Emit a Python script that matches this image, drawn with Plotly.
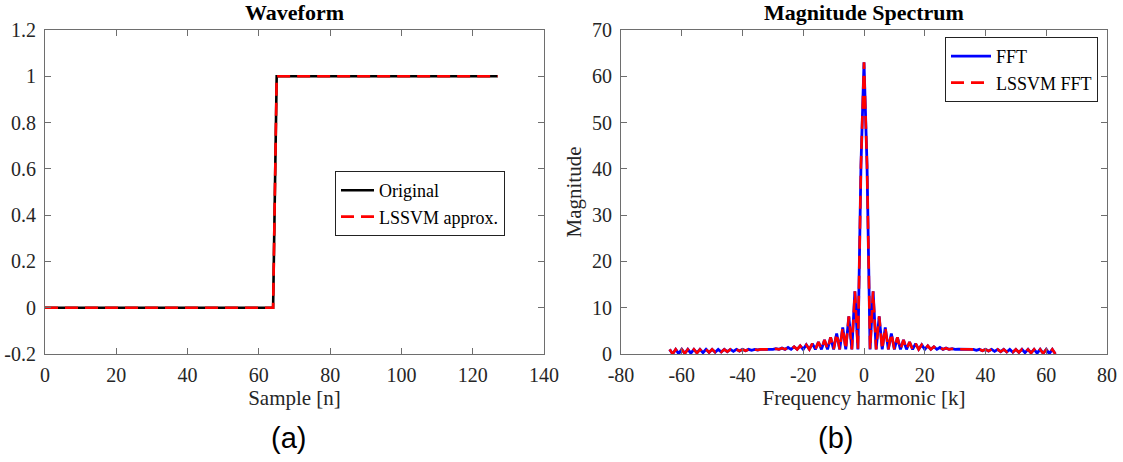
import plotly.graph_objects as go

# ---------------- data ----------------
# (a) waveform: step from 0 to 1 between samples 64 and 65
wave_n = [0, 64, 65, 127]
wave_original = [0, 0, 1, 1]
wave_lssvm = [0, 0, 1, 1]

# (b) magnitude spectrum, harmonics k = -64 ... 63
harmonic_k = list(range(-64, 64))
fft_mag = [
    1, 0.02, 1, 0.07, 1, 0.12, 1, 0.17, 1, 0.22, 1, 0.28, 1, 0.33, 1, 0.39,
    1, 0.44, 1, 0.50, 1, 0.57, 1, 0.64, 1, 0.71, 1, 0.79, 1, 0.87, 1, 0.97,
    1, 1.03, 1, 1.14, 1, 1.27, 1, 1.41, 1, 1.57, 1, 1.76, 1, 1.99, 1, 2.25,
    1, 2.59, 1, 3.03, 1, 3.61, 1, 4.45, 1, 5.76, 1, 8.11, 1, 13.56, 1, 40.73,
    63,
    40.73, 1, 13.56, 1, 8.11, 1, 5.76, 1, 4.45, 1, 3.61, 1, 3.03, 1, 2.59, 1,
    2.25, 1, 1.99, 1, 1.76, 1, 1.57, 1, 1.41, 1, 1.27, 1, 1.14, 1, 1.03, 1,
    0.97, 1, 0.87, 1, 0.79, 1, 0.71, 1, 0.64, 1, 0.57, 1, 0.50, 1, 0.44, 1,
    0.39, 1, 0.33, 1, 0.28, 1, 0.22, 1, 0.17, 1, 0.12, 1, 0.07, 1, 0.02,
]
lssvm_mag = [
    1, 0.02, 1, 0.07, 1, 0.12, 1, 0.17, 1, 0.22, 1, 0.28, 1, 0.33, 1, 0.39,
    1, 0.44, 1, 0.50, 1, 0.57, 1, 0.64, 1, 0.71, 1, 0.79, 1, 0.87, 1, 0.97,
    1, 1.03, 1, 1.14, 1, 1.27, 1, 1.41, 1, 1.57, 1, 1.76, 1, 1.99, 1, 2.25,
    1, 2.59, 1, 3.03, 1, 3.61, 1, 4.45, 1, 5.76, 1, 8.11, 1, 13.56, 1, 40.73,
    63,
    40.73, 1, 13.56, 1, 8.11, 1, 5.76, 1, 4.45, 1, 3.61, 1, 3.03, 1, 2.59, 1,
    2.25, 1, 1.99, 1, 1.76, 1, 1.57, 1, 1.41, 1, 1.27, 1, 1.14, 1, 1.03, 1,
    0.97, 1, 0.87, 1, 0.79, 1, 0.71, 1, 0.64, 1, 0.57, 1, 0.50, 1, 0.44, 1,
    0.39, 1, 0.33, 1, 0.28, 1, 0.22, 1, 0.17, 1, 0.12, 1, 0.07, 1, 0.02,
]

left_xticks = [0, 20, 40, 60, 80, 100, 120, 140]
left_yticks = [-0.2, 0, 0.2, 0.4, 0.6, 0.8, 1, 1.2]
left_ylabels = ["-0.2", "0", "0.2", "0.4", "0.6", "0.8", "1", "1.2"]
right_xticks = [-80, -60, -40, -20, 0, 20, 40, 60, 80]
right_xlabels = ["-80", "-60", "-40", "-20", "0", "20", "40", "60", "80"]
right_yticks = [0, 10, 20, 30, 40, 50, 60, 70]

# ---------------- styling ----------------
W, H = 1123, 462
SERIF = "Liberation Serif"
TXT = "#262626"
AX = "#6e6e6e"
DASH = "13px,7px"

fig = go.Figure()

fig.add_trace(go.Scatter(
    x=wave_n, y=wave_original, mode="lines", name="Original",
    line=dict(color="black", width=2.6), xaxis="x", yaxis="y", legend="legend"))
fig.add_trace(go.Scatter(
    x=wave_n, y=wave_lssvm, mode="lines", name="LSSVM approx.",
    line=dict(color="#ff0000", width=2.6, dash=DASH), xaxis="x", yaxis="y", legend="legend"))

fig.add_trace(go.Scatter(
    x=harmonic_k, y=fft_mag, mode="lines", name="FFT",
    line=dict(color="#0000ff", width=2.8), xaxis="x2", yaxis="y2", legend="legend2"))
fig.add_trace(go.Scatter(
    x=harmonic_k, y=lssvm_mag, mode="lines", name="LSSVM FFT",
    line=dict(color="#ff0000", width=2.6, dash=DASH), xaxis="x2", yaxis="y2", legend="legend2"))


def px_x(p):
    return p / W


def px_y(p):
    return 1 - p / H


axis_common = dict(
    showline=True, linecolor=AX, linewidth=1.2, mirror="ticks",
    ticks="inside", ticklen=6, tickcolor=AX, tickwidth=1,
    showgrid=False, zeroline=False, automargin=False,
    tickfont=dict(family=SERIF, size=20, color=TXT),
)
title_font = dict(family=SERIF, size=21, color=TXT)

plot_top, plot_bot = 30, 354
L0, L1 = 45, 544
R0, R1 = 621, 1107

fig.update_layout(
    width=W, height=H,
    margin=dict(l=0, r=0, t=0, b=0),
    paper_bgcolor="white", plot_bgcolor="white",
    font=dict(family=SERIF, color=TXT),
    xaxis=dict(domain=[px_x(L0), px_x(L1)], range=[0, 140], tickvals=left_xticks,
               anchor="y", ticklabelstandoff=3,
               title=dict(text="Sample [n]", font=title_font, standoff=2),
               **axis_common),
    yaxis=dict(domain=[px_y(plot_bot), px_y(plot_top)], range=[-0.2, 1.2],
               tickvals=left_yticks, ticktext=left_ylabels, anchor="x",
               ticklabelstandoff=4, **axis_common),
    xaxis2=dict(domain=[px_x(R0), px_x(R1)], range=[-80, 80], tickvals=right_xticks,
                ticktext=right_xlabels, anchor="y2", ticklabelstandoff=3,
                title=dict(text="Frequency harmonic [k]", font=title_font, standoff=2),
                **axis_common),
    yaxis2=dict(domain=[px_y(plot_bot), px_y(plot_top)], range=[0, 70],
                tickvals=right_yticks, anchor="x2", ticklabelstandoff=4,
                title=dict(text="Magnitude", font=title_font, standoff=4),
                **axis_common),
    legend=dict(x=px_x(505), y=px_y(171), xanchor="right", yanchor="top",
                bgcolor="white", bordercolor="#222", borderwidth=1,
                font=dict(family=SERIF, size=18, color="black"),
                itemwidth=33, tracegroupgap=0),
    legend2=dict(x=px_x(1098), y=px_y(37), xanchor="right", yanchor="top",
                 bgcolor="white", bordercolor="#222", borderwidth=1,
                 font=dict(family=SERIF, size=18, color="black"),
                 itemwidth=40, tracegroupgap=0),
    showlegend=True,
    annotations=[
        dict(text="<b>Waveform</b>", x=(L0 + L1) / 2 / W, y=px_y(13), xref="paper", yref="paper",
             showarrow=False, xanchor="center", yanchor="middle",
             font=dict(family=SERIF, size=22, color="black")),
        dict(text="<b>Magnitude Spectrum</b>", x=(R0 + R1) / 2 / W, y=px_y(13), xref="paper", yref="paper",
             showarrow=False, xanchor="center", yanchor="middle",
             font=dict(family=SERIF, size=22, color="black")),
        dict(text="(a)", x=288 / W, y=px_y(438), xref="paper", yref="paper",
             showarrow=False, xanchor="center", yanchor="middle",
             font=dict(family="Liberation Sans", size=29, color="black")),
        dict(text="(b)", x=835 / W, y=px_y(438), xref="paper", yref="paper",
             showarrow=False, xanchor="center", yanchor="middle",
             font=dict(family="Liberation Sans", size=29, color="black")),
    ],
)

fig.write_html("out.html")
